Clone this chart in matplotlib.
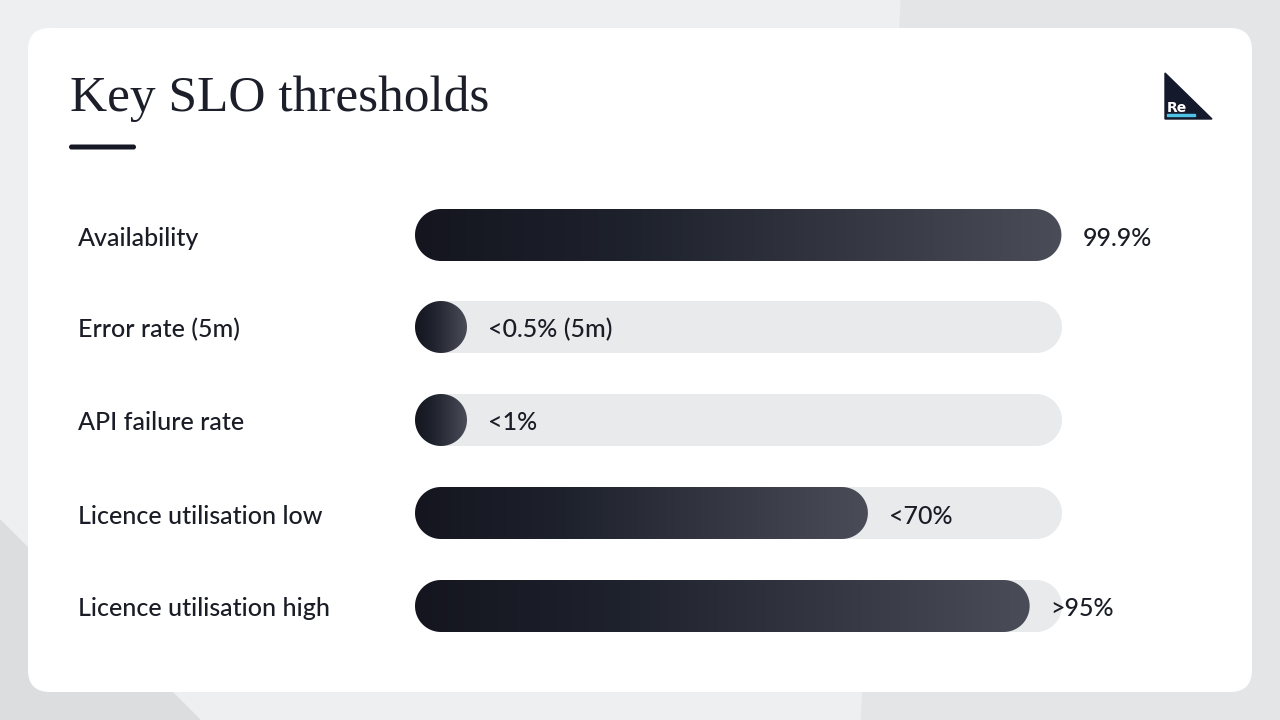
import matplotlib
matplotlib.use("Agg")
import matplotlib.pyplot as plt
import numpy as np
from matplotlib.patches import FancyBboxPatch, Polygon, Rectangle
from matplotlib.colors import LinearSegmentedColormap

categories = ["Availability", "Error rate (5m)", "API failure rate", "Licence utilisation low", "Licence utilisation high"]
values = [99.9, 0.5, 1, 70, 95]
value_labels = ["99.9%", "<0.5% (5m)", "<1%", "<70%", ">95%"]
title = "Key SLO thresholds"

fig = plt.figure(figsize=(12.8, 7.2), dpi=100)
ax = fig.add_axes([0, 0, 1, 1])
ax.set_xlim(0, 1280); ax.set_ylim(720, 0); ax.axis("off")
fig.patch.set_facecolor("#e4e5e7")
ax.add_patch(Polygon([[0, 0], [900, 0], [860, 720], [0, 720]], color="#eeeff0", zorder=0))
ax.add_patch(Polygon([[0, 520], [200, 720], [0, 720]], color="#dcdddf", zorder=0))
ax.add_patch(FancyBboxPatch((28, 28), 1224, 664, boxstyle="round,pad=0,rounding_size=22",
                            fc="white", ec="none", zorder=1))
ax.text(70, 99, title, fontsize=37, family="Liberation Serif", color="#1c1f2a",
        va="center", ha="left", zorder=3)
ax.add_patch(FancyBboxPatch((69, 144.5), 67, 5, boxstyle="round,pad=0,rounding_size=2.5",
                            fc="#161925", ec="none", zorder=3))
# logo
ax.add_patch(Polygon([[1165, 73], [1212, 119], [1165, 119]], color="#141a2c", zorder=3))
ax.text(1167, 108, "Re", fontsize=10, color="white", fontweight="bold", zorder=4, va="center")
ax.add_patch(Rectangle((1167, 114), 28, 2, color="#4fc3e6", zorder=4))

def pill(xa, xb, yc, h, **kw):
    r = h / 2
    t1 = np.linspace(np.pi / 2, 3 * np.pi / 2, 40)
    t2 = np.linspace(-np.pi / 2, np.pi / 2, 40)
    left = np.c_[xa + r + r * np.cos(t1), yc - r * np.sin(t1)]
    right = np.c_[xb - r + r * np.cos(t2), yc - r * np.sin(t2)]
    return Polygon(np.r_[left, right], closed=True, **kw)

x0, x1, h = 415, 1062, 52
ys = [235, 327, 420, 513, 606]
grad = np.linspace(0, 1, 256)[None, :]
cmap = LinearSegmentedColormap.from_list("g", ["#14151f", "#1e222c", "#343741", "#4a4d58"])
for cat, v, lab, y in zip(categories, values, value_labels, ys):
    ax.text(78, y + 3, cat, fontsize=18, family="Lato", fontweight="medium", color="#1a1c26", va="center", zorder=3)
    ax.add_patch(pill(x0, x1, y, h, fc="#e9eaec", ec="none", zorder=2))
    xe = max(x0 + (x1 - x0) * v / 100, x0 + h)
    p = pill(x0, xe, y, h, fc="none", ec="none", zorder=3)
    ax.add_patch(p)
    im = ax.imshow(grad, cmap=cmap, extent=(x0, xe, y + h / 2, y - h / 2), aspect="auto", zorder=3)
    im.set_clip_path(p)
    ax.text(xe + 21, y + 3, lab, fontsize=18, family="Lato", fontweight="medium", color="#1a1c26", va="center", zorder=4)
ax.set_xlim(0, 1280); ax.set_ylim(720, 0)
fig.savefig("out.png", dpi=100)
